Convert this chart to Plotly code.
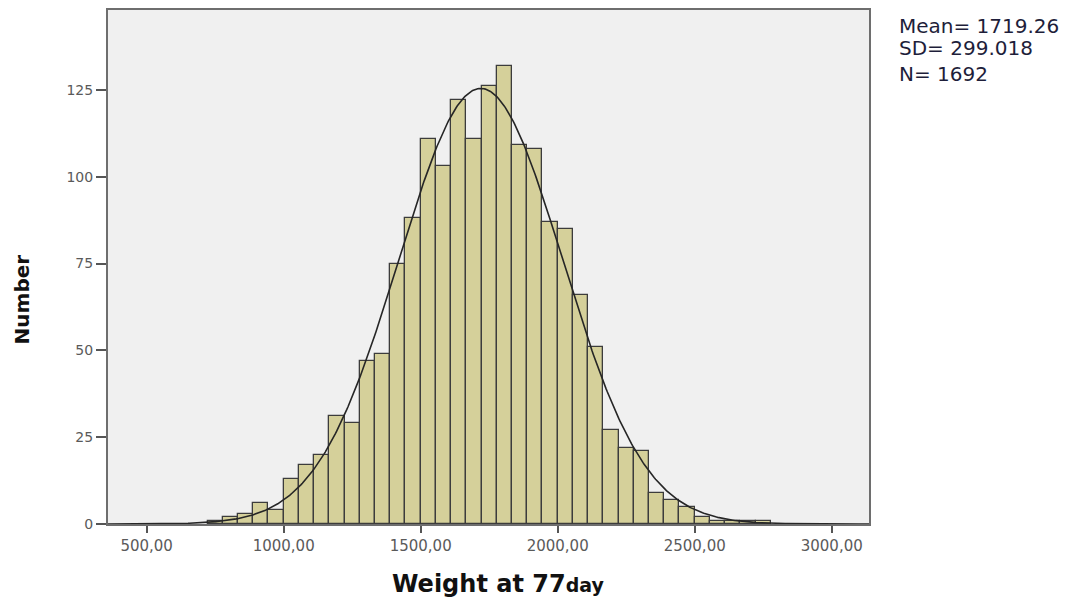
import numpy as np
import plotly.graph_objects as go

# ---- data ----
bin_left = [722.22, 777.78, 833.33, 888.89, 944.44, 1000.00, 1055.56, 1111.11,
            1166.67, 1222.22, 1277.78, 1333.33, 1388.89, 1444.44, 1500.00, 1555.56,
            1611.11, 1666.67, 1722.22, 1777.78, 1833.33, 1888.89, 1944.44, 2000.00,
            2055.56, 2111.11, 2166.67, 2222.22, 2277.78, 2333.33, 2388.89, 2444.44,
            2500.00, 2555.56, 2611.11, 2666.67, 2722.22]
counts = [1, 2, 3, 6, 4, 13, 17, 20, 31, 29, 47, 49, 75, 88, 111, 103, 122, 111,
          126, 132, 109, 108, 87, 85, 66, 51, 27, 22, 21, 9, 7, 5, 2, 1, 1, 1, 1]
bin_width = 500 / 9

mean_val = 1719.26
sd_val = 299.018
n_val = 1692

x_ticks = [500, 1000, 1500, 2000, 2500, 3000]
x_tick_text = ["500,00", "1000,00", "1500,00", "2000,00", "2500,00", "3000,00"]
y_ticks = [0, 25, 50, 75, 100, 125]

x_range = [359, 3136]
y_range = [0, 148]

# ---- figure ----
centers = [b + bin_width / 2 for b in bin_left]

fig = go.Figure()
fig.add_trace(go.Bar(
    x=centers, y=counts, width=bin_width,
    marker=dict(color="#d5d09a", line=dict(color="#3c3c3c", width=1.3)),
    hoverinfo="x+y", showlegend=False,
))

xc = np.linspace(x_range[0], x_range[1], 600)
yc = n_val * bin_width / (sd_val * np.sqrt(2 * np.pi)) * np.exp(-0.5 * ((xc - mean_val) / sd_val) ** 2)
fig.add_trace(go.Scatter(x=xc, y=yc, mode="lines",
                         line=dict(color="#262626", width=1.6),
                         hoverinfo="skip", showlegend=False))

fig.update_layout(
    width=1071, height=593,
    margin=dict(l=100, r=210, t=0, b=77),
    paper_bgcolor="white", plot_bgcolor="#f0f0f0",
    bargap=0,
    xaxis=dict(range=x_range, tickvals=x_ticks, ticktext=x_tick_text,
               ticks="outside", ticklen=7, tickwidth=1.5, tickcolor="#555555",
               showgrid=False, zeroline=False, showline=True, mirror=True,
               linecolor="#6e6e6e", linewidth=2,
               tickfont=dict(family="DejaVu Sans", size=15, color="#5a5a5a")),
    yaxis=dict(range=y_range, tickvals=y_ticks,
               ticks="outside", ticklen=10, tickwidth=1.5, tickcolor="#555555",
               showgrid=False, zeroline=False, showline=True, mirror=True,
               linecolor="#6e6e6e", linewidth=2,
               tickfont=dict(family="DejaVu Sans", size=14, color="#5a5a5a")),
)

fig.add_annotation(
    text="<b>Weight at 77<span style='font-size:19px'>day</span></b>",
    xref="paper", yref="paper", x=0.512, y=-0.117,
    xanchor="center", yanchor="middle", showarrow=False,
    font=dict(family="DejaVu Sans", size=24, color="#111111"),
)
fig.add_annotation(
    text="<b>Number</b>", textangle=-90,
    xref="paper", yref="paper", x=-0.113, y=0.437,
    xanchor="center", yanchor="middle", showarrow=False,
    font=dict(family="DejaVu Sans", size=20, color="#111111"),
)

stats_lines = [f"Mean= {mean_val}", f"SD= {sd_val}", f"N= {n_val}"]
stats_y = [24.5, 46.5, 72.5]
for txt, py in zip(stats_lines, stats_y):
    fig.add_annotation(
        text=txt, xref="paper", yref="paper",
        x=(897 - 108) / 761, y=(524 - py) / 516,
        xanchor="left", yanchor="middle", showarrow=False,
        font=dict(family="DejaVu Sans", size=20, color="#1e1e3a"),
    )

fig.write_html("out.html")
